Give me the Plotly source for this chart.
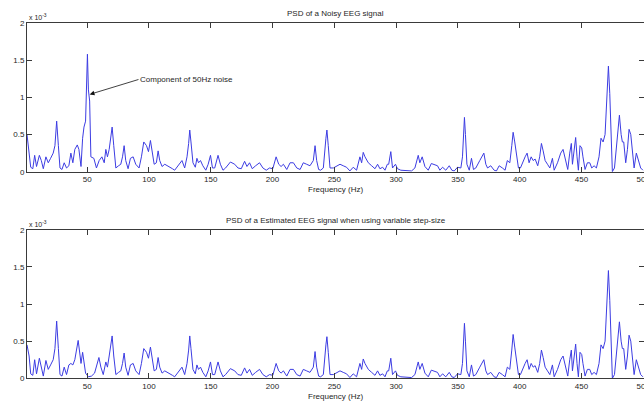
import plotly.graph_objects as go

# Power spectral density (units of 1e-3) versus frequency (Hz)
freq_noisy = [
    1.3, 3, 4.3, 6, 7.5, 9, 11.3, 12.9, 14.5, 16.6, 18.5, 20.4, 22.5, 23.9, 25.3, 26.7, 28, 29.6,
    31.4, 33.3, 35.2, 36.8, 38.4, 40, 42, 43.3, 45, 46.3, 47.4, 48.7, 49.5, 50.2, 51, 52, 53,
    55.4, 57.5, 59.7, 61.9, 63.8, 65.1, 66.4, 67.8, 69.1, 70.2, 71.5, 73.2, 75.4, 77.2, 78.6,
    79.9, 81.2, 83.1, 85, 87.2, 89.3, 92, 93.9, 95.8, 98, 99.6, 101.2, 102.8, 104.2, 106, 107.4,
    108.7, 110.6, 112.8, 114.9, 116.8, 119, 120.8, 122.7, 124.8, 126.7, 128.9, 130.8, 132.1,
    133, 134, 135.6, 137.5, 138.8, 140.1, 141.7, 143.6, 146, 147.9, 149.8, 151.4, 153.2, 155.9,
    157.8, 159.9, 162, 165.9, 169.4, 172, 174.7, 177.4, 179.3, 181.4, 183.6, 186.3, 189.5,
    192.2, 194.9, 197.6, 200.2, 202.9, 205, 206.9, 208.8, 211.5, 214.2, 216.9, 219.6, 222.3,
    224.9, 227.6, 230.3, 233, 234.4, 235.7, 237.3, 238.9, 241.1, 243.2, 244, 245.1, 246.5,
    249.2, 251.9, 254.6, 257.2, 259.9, 262.6, 265.3, 268, 269.4, 270.7, 272.1, 273.4, 274.8,
    277.5, 280.2, 282.9, 285, 286.9, 289.1, 291, 292.9, 294, 295.7, 297.1, 299.5, 301.1, 303.8,
    308.4, 312.5, 315.2, 317.9, 319.2, 321.1, 323.3, 326, 328.5, 330.9, 333.5, 335.4, 337.6,
    340.2, 343, 345.1, 347, 349.7, 352.4, 353.7, 354.8, 355.3, 356.1, 357.3, 359.2, 361, 362.6,
    364.5, 367.7, 371, 372.6, 374, 376.6, 379.3, 381.2, 383.4, 386, 388.2, 390, 392, 393.6,
    394.7, 396, 397.4, 399, 400.6, 402.8, 404.4, 406, 407.6, 409.3, 410.9, 412.5, 414.6, 416.2,
    417.6, 419, 420.6, 422.5, 424.4, 426.5, 427.9, 430.6, 433.2, 435.1, 437.3, 438.9, 440.5,
    441.8, 442.7, 444.2, 445.3, 446.4, 447.5, 448.8, 450.2, 451.2, 452.9, 454.8, 456.7, 458.3,
    460.2, 462.1, 464.2, 465.8, 467.5, 469.1, 470.7, 471.8, 472.9, 474, 475, 476.7, 478.3,
    479.9, 480.7, 482.1, 483.1, 484.2, 485.8, 487.2, 488.5, 489.9, 491.2, 492.6, 494.4, 496,
    497.9, 499.7,
]
psd_noisy = [
    0.50, 0.25, 0.06, 0.04, 0.22, 0.07, 0.22, 0.15, 0.04, 0.20, 0.12, 0.18, 0.25, 0.35, 0.68, 0.35, 0.05, 0.03,
    0.12, 0.05, 0.08, 0.25, 0.12, 0.30, 0.36, 0.30, 0.07, 0.45, 0.60, 0.68, 1.10, 1.58, 1.10, 0.95, 0.20,
    0.18, 0.05, 0.15, 0.20, 0.12, 0.30, 0.20, 0.30, 0.45, 0.60, 0.35, 0.05, 0.08, 0.10, 0.20,
    0.35, 0.15, 0.04, 0.18, 0.20, 0.10, 0.05, 0.20, 0.40, 0.35, 0.27, 0.42, 0.25, 0.10, 0.12, 0.28,
    0.15, 0.07, 0.10, 0.08, 0.07, 0.04, 0.02, 0.06, 0.10, 0.15, 0.05, 0.20, 0.38,
    0.56, 0.40, 0.12, 0.06, 0.18, 0.12, 0.15, 0.08, 0.02, 0.10, 0.22, 0.05, 0.05, 0.22,
    0.10, 0.02, 0.05, 0.13, 0.10, 0.05, 0.04, 0.14, 0.07, 0.12, 0.04, 0.08, 0.12,
    0.05, 0.02, 0.05, 0.04, 0.20, 0.10, 0.07, 0.10, 0.03, 0.12, 0.12, 0.05, 0.03,
    0.12, 0.10, 0.08, 0.15, 0.35, 0.15, 0.03, 0.02, 0.05, 0.45, 0.56, 0.35, 0.05,
    0.05, 0.08, 0.10, 0.08, 0.06, 0.01, 0.06, 0.02, 0.10, 0.20, 0.12, 0.26, 0.20,
    0.12, 0.08, 0.04, 0.10, 0.04, 0.06, 0.02, 0.10, 0.10, 0.27, 0.05, 0.10, 0.04, 0.02,
    0.02, 0.01, 0.05, 0.22, 0.12, 0.20, 0.07, 0.02, 0.11, 0.10, 0.08, 0.02, 0.06,
    0.02, 0.08, 0.02, 0.01, 0.06, 0.05, 0.20, 0.50, 0.73, 0.50, 0.10, 0.02, 0.18, 0.03,
    0.05, 0.15, 0.25, 0.10, 0.05, 0.08, 0.02, 0.01, 0.08, 0.05, 0.02, 0.15, 0.12, 0.35,
    0.53, 0.40, 0.25, 0.05, 0.05, 0.15, 0.20, 0.25, 0.12, 0.20, 0.15, 0.17, 0.08, 0.20,
    0.38, 0.28, 0.15, 0.10, 0.05, 0.18, 0.02, 0.12, 0.25, 0.30, 0.12, 0.03, 0.25,
    0.38, 0.10, 0.30, 0.46, 0.20, 0.02, 0.35, 0.32, 0.20, 0.03, 0.12, 0.12, 0.05,
    0.08, 0.05, 0.20, 0.45, 0.40, 0.50, 1.00, 1.42, 1.05, 0.30, 0.00, 0.05, 0.30,
    0.60, 0.76, 0.50, 0.40, 0.40, 0.12, 0.30, 0.57, 0.50, 0.30, 0.05, 0.25, 0.15,
    0.05, 0.02,
]

freq_est = [
    1.3, 3, 4.3, 6, 7.5, 9, 11.3, 12.9, 14.5, 16.6, 18.5, 20.4, 22.5, 23.9, 25.3, 26.7, 28, 29.6,
    31.4, 33.3, 35.2, 36.8, 38.4, 40, 41.3, 42.7, 44.3, 45, 46.3, 47.4, 48.7, 51, 53.5, 56,
    58.2, 59.5, 61.1, 63, 65.1, 66.4, 67.8, 69.1, 70.2, 71.5, 73.2, 75.4, 77.2, 78.6,
    79.9, 81.2, 83.1, 85, 87.2, 89.3, 92, 93.9, 95.8, 98, 99.6, 101.2, 102.8, 104.2, 106, 107.4,
    108.7, 110.6, 112.8, 114.9, 116.8, 119, 120.8, 122.7, 124.8, 126.7, 128.9, 130.8, 132.1,
    133, 134, 135.6, 137.5, 138.8, 140.1, 141.7, 143.6, 146, 147.9, 149.8, 151.4, 153.2, 155.9,
    157.8, 159.9, 162, 165.9, 169.4, 172, 174.7, 177.4, 179.3, 181.4, 183.6, 186.3, 189.5,
    192.2, 194.9, 197.6, 200.2, 202.9, 205, 206.9, 208.8, 211.5, 214.2, 216.9, 219.6, 222.3,
    224.9, 227.6, 230.3, 233, 234.4, 235.7, 237.3, 238.9, 241.1, 243.2, 244, 245.1, 246.5,
    249.2, 251.9, 254.6, 257.2, 259.9, 262.6, 265.3, 268, 269.4, 270.7, 272.1, 273.4, 274.8,
    277.5, 280.2, 282.9, 285, 286.9, 289.1, 291, 292.9, 294, 295.7, 297.1, 299.5, 301.1, 303.8,
    308.4, 312.5, 315.2, 317.9, 319.2, 321.1, 323.3, 326, 328.5, 330.9, 333.5, 335.4, 337.6,
    340.2, 343, 345.1, 347, 349.7, 352.4, 353.7, 354.8, 355.3, 356.1, 357.3, 359.2, 361, 362.6,
    364.5, 367.7, 371, 372.6, 374, 376.6, 379.3, 381.2, 383.4, 386, 388.2, 390, 392, 393.6,
    394.7, 396, 397.4, 399, 400.6, 402.8, 404.4, 406, 407.6, 409.3, 410.9, 412.5, 414.6, 416.2,
    417.6, 419, 420.6, 422.5, 424.4, 426.5, 427.9, 430.6, 433.2, 435.1, 437.3, 438.9, 440.5,
    441.8, 442.7, 444.2, 445.3, 446.4, 447.5, 448.8, 450.2, 451.2, 452.9, 454.8, 456.7, 458.3,
    460.2, 462.1, 464.2, 465.8, 467.5, 469.1, 470.7, 471.8, 472.9, 474, 475, 476.7, 478.3,
    479.9, 480.7, 482.1, 483.1, 484.2, 485.8, 487.2, 488.5, 489.9, 491.2, 492.6, 494.4, 496,
    497.9, 499.7,
]
psd_est = [
    0.45, 0.30, 0.06, 0.04, 0.25, 0.06, 0.27, 0.15, 0.03, 0.24, 0.12, 0.18, 0.25, 0.40, 0.77, 0.40, 0.05, 0.03,
    0.15, 0.05, 0.18, 0.20, 0.18, 0.25, 0.38, 0.51, 0.30, 0.20, 0.35, 0.20, 0.07, 0.02, 0.03, 0.07,
    0.20, 0.28, 0.15, 0.05, 0.22, 0.15, 0.30, 0.45, 0.57, 0.30, 0.05, 0.08, 0.10, 0.20,
    0.34, 0.15, 0.04, 0.18, 0.20, 0.10, 0.05, 0.20, 0.40, 0.35, 0.27, 0.42, 0.25, 0.10, 0.12, 0.28,
    0.15, 0.07, 0.10, 0.08, 0.07, 0.04, 0.02, 0.06, 0.10, 0.15, 0.05, 0.20, 0.38,
    0.57, 0.40, 0.12, 0.06, 0.18, 0.12, 0.15, 0.08, 0.02, 0.10, 0.22, 0.05, 0.05, 0.22,
    0.10, 0.02, 0.05, 0.13, 0.10, 0.05, 0.04, 0.14, 0.07, 0.12, 0.04, 0.08, 0.12,
    0.05, 0.02, 0.05, 0.04, 0.20, 0.10, 0.07, 0.10, 0.03, 0.12, 0.12, 0.05, 0.03,
    0.12, 0.10, 0.08, 0.15, 0.36, 0.15, 0.03, 0.02, 0.05, 0.45, 0.56, 0.35, 0.05,
    0.05, 0.08, 0.10, 0.08, 0.06, 0.01, 0.06, 0.02, 0.10, 0.20, 0.12, 0.26, 0.20,
    0.12, 0.08, 0.04, 0.10, 0.04, 0.06, 0.02, 0.10, 0.10, 0.27, 0.05, 0.10, 0.04, 0.02,
    0.02, 0.01, 0.05, 0.22, 0.12, 0.20, 0.07, 0.02, 0.11, 0.10, 0.08, 0.02, 0.06,
    0.02, 0.08, 0.02, 0.01, 0.06, 0.05, 0.20, 0.50, 0.74, 0.50, 0.10, 0.02, 0.18, 0.03,
    0.05, 0.15, 0.25, 0.10, 0.05, 0.08, 0.02, 0.01, 0.08, 0.05, 0.02, 0.15, 0.12, 0.38,
    0.59, 0.42, 0.25, 0.05, 0.05, 0.15, 0.20, 0.25, 0.12, 0.20, 0.15, 0.17, 0.08, 0.20,
    0.38, 0.28, 0.15, 0.10, 0.05, 0.18, 0.02, 0.12, 0.25, 0.30, 0.12, 0.03, 0.25,
    0.38, 0.10, 0.30, 0.46, 0.20, 0.02, 0.35, 0.32, 0.20, 0.03, 0.12, 0.12, 0.05,
    0.08, 0.05, 0.20, 0.45, 0.40, 0.50, 1.00, 1.45, 1.05, 0.30, 0.00, 0.05, 0.30,
    0.60, 0.76, 0.50, 0.40, 0.40, 0.12, 0.30, 0.58, 0.50, 0.30, 0.05, 0.25, 0.15,
    0.05, 0.02,
]

x_ticks = [50, 100, 150, 200, 250, 300, 350, 400, 450, 500]
y_ticks = [0, 0.5, 1, 1.5, 2]
y_tick_text = ["0", "0.5", "1", "1.5", "2"]

titles = ["PSD of a Noisy EEG signal",
          "PSD of a Estimated EEG signal when using variable step-size"]
x_label = "Frequency (Hz)"
noise_note = "Component of 50Hz noise"

W, H = 644, 403
LEFT = 27
FONT = "Arial, Liberation Sans, sans-serif"
TXT = "#262626"
LINE = "#3c3ce2"
AX = "#3a3a3a"

# pixel rows of the two axes boxes (top, bottom)
boxes = [(23.0, 171.7), (229.7, 378.3)]


def py(px):
    return 1 - px / H


fig = go.Figure()
fig.add_trace(go.Scatter(x=freq_noisy, y=psd_noisy, mode="lines",
                         line=dict(color=LINE, width=1), xaxis="x", yaxis="y",
                         showlegend=False, hoverinfo="skip"))
fig.add_trace(go.Scatter(x=freq_est, y=psd_est, mode="lines",
                         line=dict(color=LINE, width=1), xaxis="x2", yaxis="y2",
                         showlegend=False, hoverinfo="skip"))

axis_common = dict(showline=True, linecolor=AX, linewidth=1, mirror="ticks",
                   ticks="inside", ticklen=5, tickcolor=AX, tickwidth=1,
                   showgrid=False, zeroline=False, automargin=False,
                   ticklabeloverflow="allow",
                   tickfont=dict(family=FONT, size=8, color=TXT))

xr = [1.3, 500.6]
layout = dict(
    width=W, height=H,
    margin=dict(l=LEFT, r=0, t=0, b=0, autoexpand=False),
    paper_bgcolor="white", plot_bgcolor="white",
    showlegend=False,
)
for i, (top, bot) in enumerate(boxes):
    sfx = "" if i == 0 else str(i + 1)
    layout["xaxis" + sfx] = dict(axis_common, range=xr, tickvals=x_ticks,
                                 anchor="y" + sfx, domain=[0, 1])
    layout["yaxis" + sfx] = dict(axis_common, range=[0, 2], tickvals=y_ticks,
                                 ticktext=y_tick_text,
                                 anchor="x" + sfx, domain=[py(bot), py(top)])
fig.update_layout(**layout)

ann = []
for i, (top, bot) in enumerate(boxes):
    # panel title
    ann.append(dict(x=0.5, y=py(top - 9), xref="paper", yref="paper",
                    text=titles[i], showarrow=False, xanchor="center", yanchor="middle",
                    font=dict(family=FONT, size=8, color=TXT)))
    # x-axis label
    ann.append(dict(x=0.5, y=py(bot + 18), xref="paper", yref="paper",
                    text=x_label, showarrow=False, xanchor="center", yanchor="middle",
                    font=dict(family=FONT, size=8, color=TXT)))
    # exponent multiplier
    ann.append(dict(x=0, y=py(top - 6), xref="paper", yref="paper",
                    text="x 10<sup>-3</sup>", showarrow=False, xanchor="left", yanchor="middle",
                    font=dict(family=FONT, size=7, color=TXT)))

# arrow pointing at the 50 Hz line-noise peak
ann.append(dict(x=52.0, y=1.04, xref="x", yref="y", ax=91.5, ay=1.24, axref="x", ayref="y",
                text=noise_note, showarrow=True, arrowhead=2, arrowsize=1.2, arrowwidth=0.8,
                arrowcolor="#111111", xanchor="left", yanchor="middle", standoff=0,
                font=dict(family=FONT, size=8, color=TXT)))
fig.update_layout(annotations=ann)

fig.write_html("out.html")
